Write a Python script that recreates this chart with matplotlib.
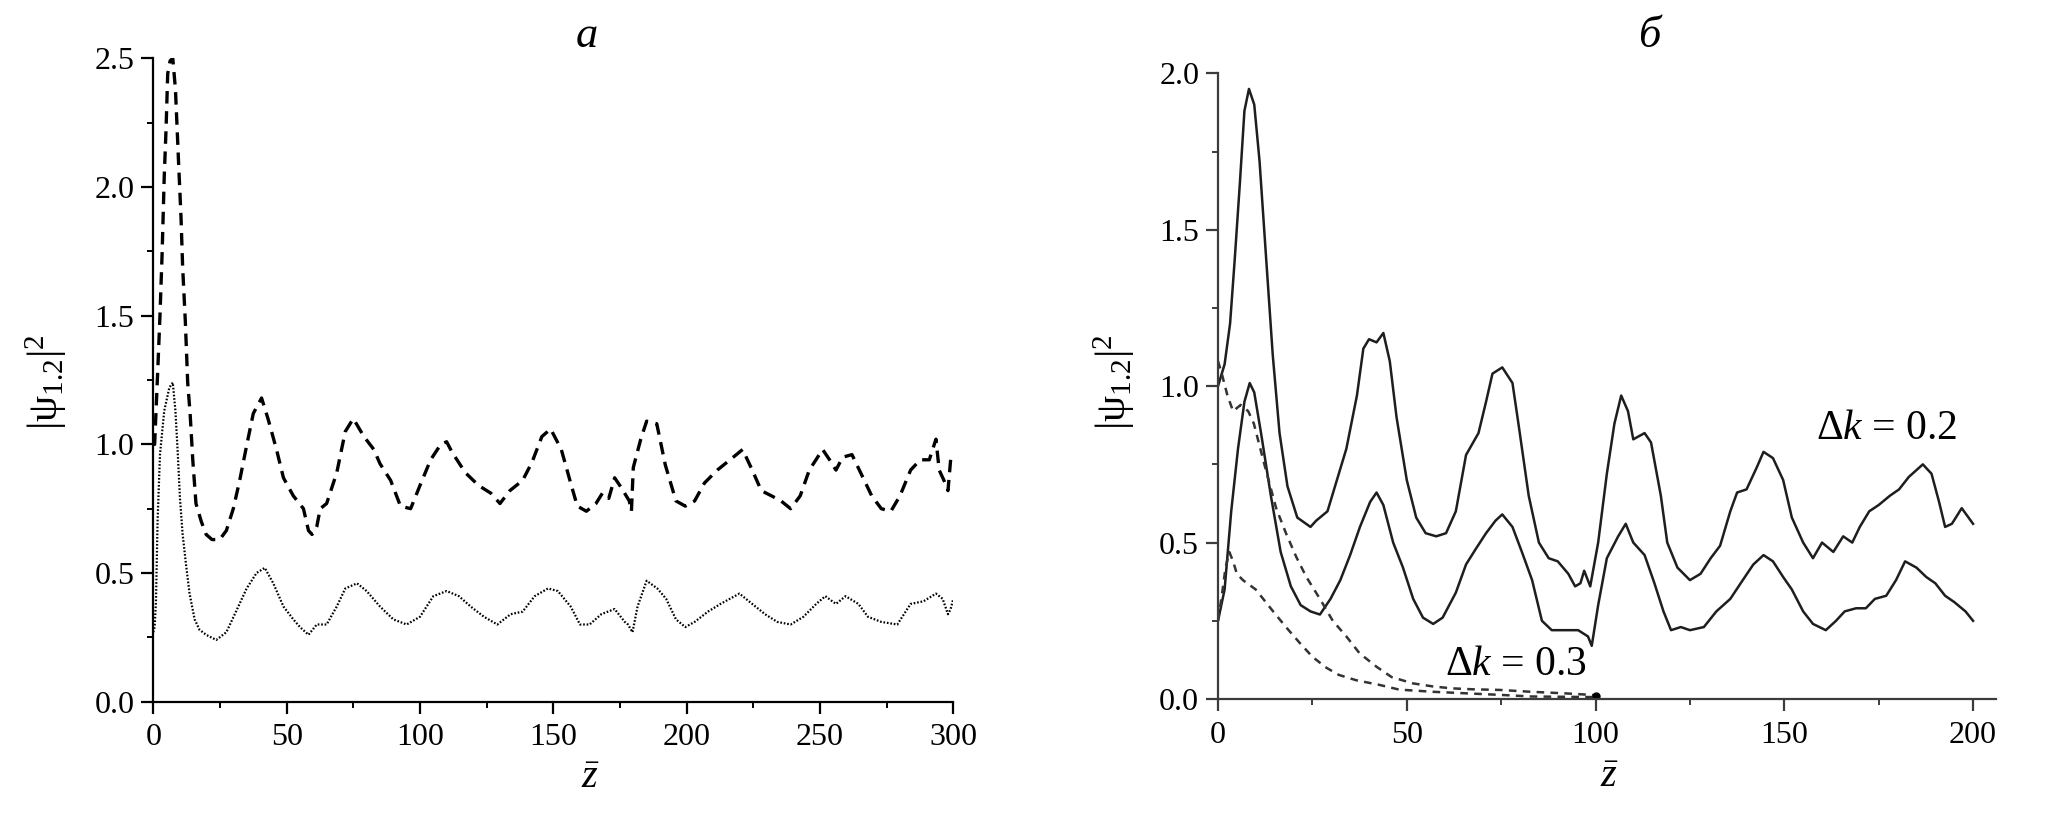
import matplotlib
matplotlib.use("Agg")
import matplotlib.pyplot as plt
from matplotlib.ticker import MultipleLocator, FormatStrFormatter

plt.rcParams['font.family'] = ['Liberation Serif', 'DejaVu Serif']
plt.rcParams['mathtext.fontset'] = 'custom'
plt.rcParams['mathtext.rm'] = 'Liberation Serif'
plt.rcParams['mathtext.it'] = 'Liberation Serif:italic'
plt.rcParams['mathtext.bf'] = 'Liberation Serif:bold'
plt.rcParams['lines.scale_dashes'] = False

# ---------------- data: panel a ----------------
a_dashed = [(0, 1.0), (0.5, 1.0), (1.6, 1.27), (2.5, 1.5), (3.3, 1.74), (4.1, 2.04), (4.8, 2.23),
            (5.4, 2.44), (6.3, 2.49), (7.3, 2.5), (8.3, 2.38), (8.8, 2.26), (9.5, 2.09), (10.4, 1.88),
            (11, 1.69), (12, 1.48), (12.9, 1.24), (13.8, 1.12), (14.8, 0.94), (16, 0.77), (18, 0.70),
            (19.8, 0.65), (22, 0.63), (24.9, 0.63), (27.4, 0.665), (30, 0.75), (32.4, 0.86), (35, 0.995),
            (37.5, 1.12), (40.6, 1.18), (43, 1.10), (46.2, 0.98), (48.8, 0.87), (52.5, 0.80), (56.3, 0.75),
            (58.2, 0.665), (59.5, 0.65), (60.5, 0.66), (61.3, 0.68), (62.6, 0.75), (65, 0.77), (68.8, 0.89),
            (72, 1.05), (75, 1.10), (79, 1.03), (82.7, 0.98), (85, 0.925), (89, 0.86), (92.7, 0.76),
            (96.5, 0.75), (100, 0.84), (104, 0.94), (107.8, 1.0), (110, 1.01), (112, 0.97), (117, 0.89),
            (122, 0.84), (126.6, 0.81), (130, 0.77), (133.7, 0.82), (138.5, 0.86), (142, 0.93),
            (145.7, 1.03), (149, 1.06), (153, 0.98), (156.5, 0.85), (159, 0.76), (162.4, 0.74),
            (166, 0.77), (168.4, 0.81), (170.8, 0.79), (173, 0.87), (175.6, 0.83), (178.5, 0.78),
            (179.3, 0.74), (180, 0.91), (182.8, 1.02), (185, 1.09), (188.8, 1.08), (192, 0.92),
            (196, 0.78), (199.5, 0.76), (203, 0.78), (206.7, 0.85), (211.5, 0.9), (216.3, 0.94),
            (221, 0.98), (224.6, 0.9), (228, 0.82), (231.8, 0.8), (235.4, 0.78), (239, 0.75),
            (242.6, 0.8), (246, 0.9), (251, 0.98), (253.6, 0.94), (256, 0.9), (258.5, 0.95),
            (262, 0.96), (265.7, 0.88), (269.4, 0.8), (273, 0.75), (276.6, 0.74), (280, 0.8),
            (284, 0.9), (287.6, 0.94), (291, 0.94), (293.5, 1.02), (294.7, 0.9), (296.5, 0.86),
            (298, 0.82), (299, 0.94), (300, 0.93)]

a_dotted = [(0, 0.27), (0.5, 0.29), (1, 0.39), (1.6, 0.70), (2.5, 0.96), (4.1, 1.13), (6, 1.22),
            (7.3, 1.24), (8.3, 1.13), (9.2, 0.96), (10, 0.79), (11, 0.65), (12.3, 0.53), (13.6, 0.42),
            (15.5, 0.32), (17.3, 0.28), (19.8, 0.26), (23.6, 0.24), (27.4, 0.27), (31, 0.35), (35, 0.44),
            (38.7, 0.50), (41.8, 0.52), (45, 0.46), (48.8, 0.37), (52.5, 0.32), (55, 0.29), (58.2, 0.26),
            (61.3, 0.30), (65, 0.30), (68.8, 0.37), (72, 0.44), (76.4, 0.46), (80, 0.43), (85, 0.37),
            (90, 0.32), (95, 0.30), (100, 0.33), (105, 0.41), (110, 0.43), (114.6, 0.41), (119, 0.37),
            (124, 0.33), (129, 0.30), (134, 0.34), (138.5, 0.35), (143, 0.41), (148, 0.44),
            (151.7, 0.43), (156.5, 0.37), (160, 0.30), (163.6, 0.30), (168, 0.34), (173, 0.36),
            (176.8, 0.31), (178, 0.30), (179.7, 0.27), (181.6, 0.37), (185, 0.47), (189, 0.44),
            (192.3, 0.40), (196, 0.32), (199.5, 0.29), (203, 0.31), (208, 0.35), (212.7, 0.38),
            (219.8, 0.42), (224.6, 0.38), (229.4, 0.34), (234, 0.31), (239, 0.30), (243.8, 0.33),
            (248.6, 0.38), (252, 0.41), (256, 0.38), (259.6, 0.41), (264.4, 0.38), (268, 0.33),
            (273, 0.31), (279, 0.30), (284, 0.38), (288.8, 0.39), (293.5, 0.42), (296, 0.40),
            (298, 0.34), (299, 0.36), (300, 0.40)]

# ---------------- data: panel б ----------------
b_upper = [(0, 1.0), (1.75, 1.07), (3.2, 1.2), (4.4, 1.4), (5.8, 1.65), (7, 1.88), (8.2, 1.95),
           (9.6, 1.9), (11, 1.72), (12.8, 1.4), (14.5, 1.1), (16.3, 0.85), (18.4, 0.68), (21, 0.58),
           (24.5, 0.55), (26, 0.57), (27, 0.58), (29, 0.6), (31.5, 0.7), (34, 0.8), (36.8, 0.97),
           (38.5, 1.12), (40, 1.15), (42, 1.14), (43.8, 1.17), (45.5, 1.08), (47.3, 0.9), (50, 0.7),
           (52.5, 0.58), (55, 0.53), (57.8, 0.52), (60.4, 0.53), (63, 0.6), (65.7, 0.78), (69, 0.85),
           (71, 0.95), (72.7, 1.04), (75.3, 1.06), (78, 1.01), (79.7, 0.87), (82.3, 0.65), (85, 0.5),
           (87.6, 0.45), (90, 0.44), (92.8, 0.40), (94.6, 0.36), (96, 0.37), (97, 0.41), (98.6, 0.36),
           (100.7, 0.5), (103, 0.72), (105, 0.88), (106.8, 0.97), (108.6, 0.92), (110, 0.83),
           (113, 0.85), (114.7, 0.82), (117.3, 0.65), (119, 0.5), (121.7, 0.42), (125, 0.38),
           (127.8, 0.40), (130.5, 0.45), (133, 0.49), (135.7, 0.6), (137.5, 0.66), (140, 0.67),
           (142.7, 0.74), (144.5, 0.79), (147, 0.77), (149.7, 0.7), (152, 0.58), (155, 0.5),
           (157.6, 0.45), (160, 0.5), (163, 0.47), (165.6, 0.52), (168, 0.5), (170, 0.55),
           (172.5, 0.6), (175, 0.62), (178, 0.65), (180.4, 0.67), (183, 0.71), (186.7, 0.75),
           (189, 0.72), (191, 0.63), (192.6, 0.55), (194.4, 0.56), (197, 0.61), (200, 0.56)]

b_lower = [(0, 0.25), (1.75, 0.35), (3.5, 0.6), (5.3, 0.8), (7, 0.95), (8.4, 1.01), (9.6, 0.98),
           (11.4, 0.85), (14, 0.65), (16.6, 0.47), (19.3, 0.36), (21.9, 0.3), (24.5, 0.28), (27, 0.27),
           (29.8, 0.32), (32.4, 0.38), (35, 0.46), (37.6, 0.55), (40.3, 0.63), (42, 0.66), (43.8, 0.62),
           (46.4, 0.5), (49, 0.42), (51.7, 0.32), (54.3, 0.26), (57, 0.24), (59.5, 0.26), (63, 0.34),
           (65.7, 0.43), (68.3, 0.48), (71, 0.53), (73.5, 0.57), (75.3, 0.59), (78, 0.55), (80.5, 0.47),
           (83.2, 0.38), (85.8, 0.25), (88.4, 0.22), (92, 0.22), (95.4, 0.22), (98, 0.2), (99, 0.17),
           (100.7, 0.3), (103, 0.45), (106, 0.52), (108, 0.56), (110, 0.5), (113, 0.46), (115.6, 0.37),
           (118, 0.28), (120, 0.22), (122.6, 0.23), (125, 0.22), (128.7, 0.23), (132, 0.28),
           (135.7, 0.32), (139, 0.38), (141.8, 0.43), (144.5, 0.46), (147, 0.44), (149.7, 0.39),
           (152, 0.35), (155, 0.28), (157.6, 0.24), (161, 0.22), (163.7, 0.25), (166, 0.28),
           (169, 0.29), (171.6, 0.29), (174, 0.32), (177, 0.33), (179.6, 0.38), (182, 0.44),
           (185, 0.42), (187.6, 0.39), (190, 0.37), (192.6, 0.33), (195, 0.31), (198, 0.28), (200, 0.25)]

b_dash_upper = [(0, 1.08), (1, 1.04), (2.5, 0.97), (4, 0.92), (6, 0.94), (8, 0.92), (9.5, 0.88),
                (11, 0.81), (12.5, 0.74), (15.4, 0.61), (18, 0.53), (20.7, 0.455), (23.4, 0.39),
                (27, 0.32), (30.4, 0.25), (34, 0.2), (37.5, 0.146), (42, 0.103), (46, 0.07),
                (51.6, 0.05), (57, 0.04), (62, 0.034), (67.5, 0.031), (74.6, 0.029), (83, 0.023),
                (92, 0.018), (99, 0.013), (100, 0.012)]

b_dash_lower = [(0, 0.25), (1, 0.33), (2, 0.42), (3, 0.47), (4, 0.44), (5, 0.40), (6.6, 0.38),
                (10, 0.35), (14.6, 0.28), (18, 0.23), (21.6, 0.18), (25, 0.135), (28.7, 0.10),
                (32, 0.077), (36.6, 0.06), (42.8, 0.045), (48, 0.03), (57, 0.023), (66, 0.018),
                (75, 0.013), (83, 0.008), (92, 0.007), (100, 0.006)]

panel_titles = ['a', 'б']
dk_labels = [r'$\mathrm{\Delta}k$ = 0.2', r'$\mathrm{\Delta}k$ = 0.3']

def xy(pairs):
    return [p[0] for p in pairs], [p[1] for p in pairs]

W, H = 2068, 826
fig = plt.figure(figsize=(W / 100, H / 100), dpi=100)

def px_axes(x0, x1, ytop, ybot):
    return fig.add_axes([x0 / W, 1 - ybot / H, (x1 - x0) / W, (ybot - ytop) / H])

TICK_FS = 23

def style(ax, col, xmaj, xmin, ymaj, ymin):
    for s in ['top', 'right']:
        ax.spines[s].set_visible(False)
    for s in ['left', 'bottom']:
        ax.spines[s].set_linewidth(1.6)
        ax.spines[s].set_color(col)
    ax.xaxis.set_major_locator(MultipleLocator(xmaj))
    ax.xaxis.set_minor_locator(MultipleLocator(xmin))
    ax.yaxis.set_major_locator(MultipleLocator(ymaj))
    ax.yaxis.set_minor_locator(MultipleLocator(ymin))
    ax.yaxis.set_major_formatter(FormatStrFormatter('%.1f'))
    ax.tick_params(which='major', direction='out', length=8.5, width=1.6, color=col,
                   labelsize=TICK_FS, pad=5)
    ax.tick_params(which='minor', direction='out', length=4.5, width=1.4, color=col)
    ax.tick_params(axis='x', which='major', pad=7)

# ---- panel a ----
axa = px_axes(153.3, 953.3, 58.3, 701.7)
x, y = xy(a_dashed)
axa.plot(x, y, color='black', lw=2.4, dashes=(9, 5.5), dash_capstyle='butt')
x, y = xy(a_dotted)
axa.plot(x, y, color='black', lw=1.6, dashes=(1.2, 1.3))
axa.set_xlim(0, 300)
axa.set_ylim(0, 2.5)
style(axa, 'black', 50, 25, 0.5, 0.25)
axa.text(0.542, 1.035, panel_titles[0], transform=axa.transAxes, ha='center', va='center',
         fontsize=32, style='italic')
axa.text(0.546, -0.119, r'$\bar{z}$', transform=axa.transAxes, ha='center', va='center', fontsize=29)
axa.text(-0.134, 0.497, r'$|\mathrm{\psi}_{1.2}|^2$', transform=axa.transAxes, ha='center',
         va='center', fontsize=30, rotation=90)

# ---- panel б ----
axb = px_axes(1218.0, 1995.7, 73.3, 699.0)
gcol = '#3c3c3c'
x, y = xy(b_upper)
axb.plot(x, y, color='#1e1e1e', lw=1.8)
x, y = xy(b_lower)
axb.plot(x, y, color='#1e1e1e', lw=1.8)
x, y = xy(b_dash_upper)
axb.plot(x, y, color='#333333', lw=1.8, dashes=(5.5, 4.5))
x, y = xy(b_dash_lower)
axb.plot(x, y, color='#333333', lw=1.8, dashes=(5.5, 4.5))
axb.plot([b_dash_lower[-1][0]], [b_dash_lower[-1][1] + 0.005], 'o', color='black', ms=5)
axb.set_xlim(0, 206)
axb.set_ylim(0, 2.0)
style(axb, gcol, 50, 25, 0.5, 0.25)
axb.set_xticks([0, 50, 100, 150, 200])
axb.text(0.554, 1.06, panel_titles[1], transform=axb.transAxes, ha='center', va='center',
         fontsize=32, style='italic')
axb.text(0.503, -0.126, r'$\bar{z}$', transform=axb.transAxes, ha='center', va='center', fontsize=29)
axb.text(-0.134, 0.507, r'$|\mathrm{\psi}_{1.2}|^2$', transform=axb.transAxes, ha='center',
         va='center', fontsize=30, rotation=90)
axb.text(177, 0.865, dk_labels[0], ha='center', va='center', fontsize=30)
axb.text(79, 0.11, dk_labels[1], ha='center', va='center', fontsize=30)

fig.savefig('out.png', dpi=100)
